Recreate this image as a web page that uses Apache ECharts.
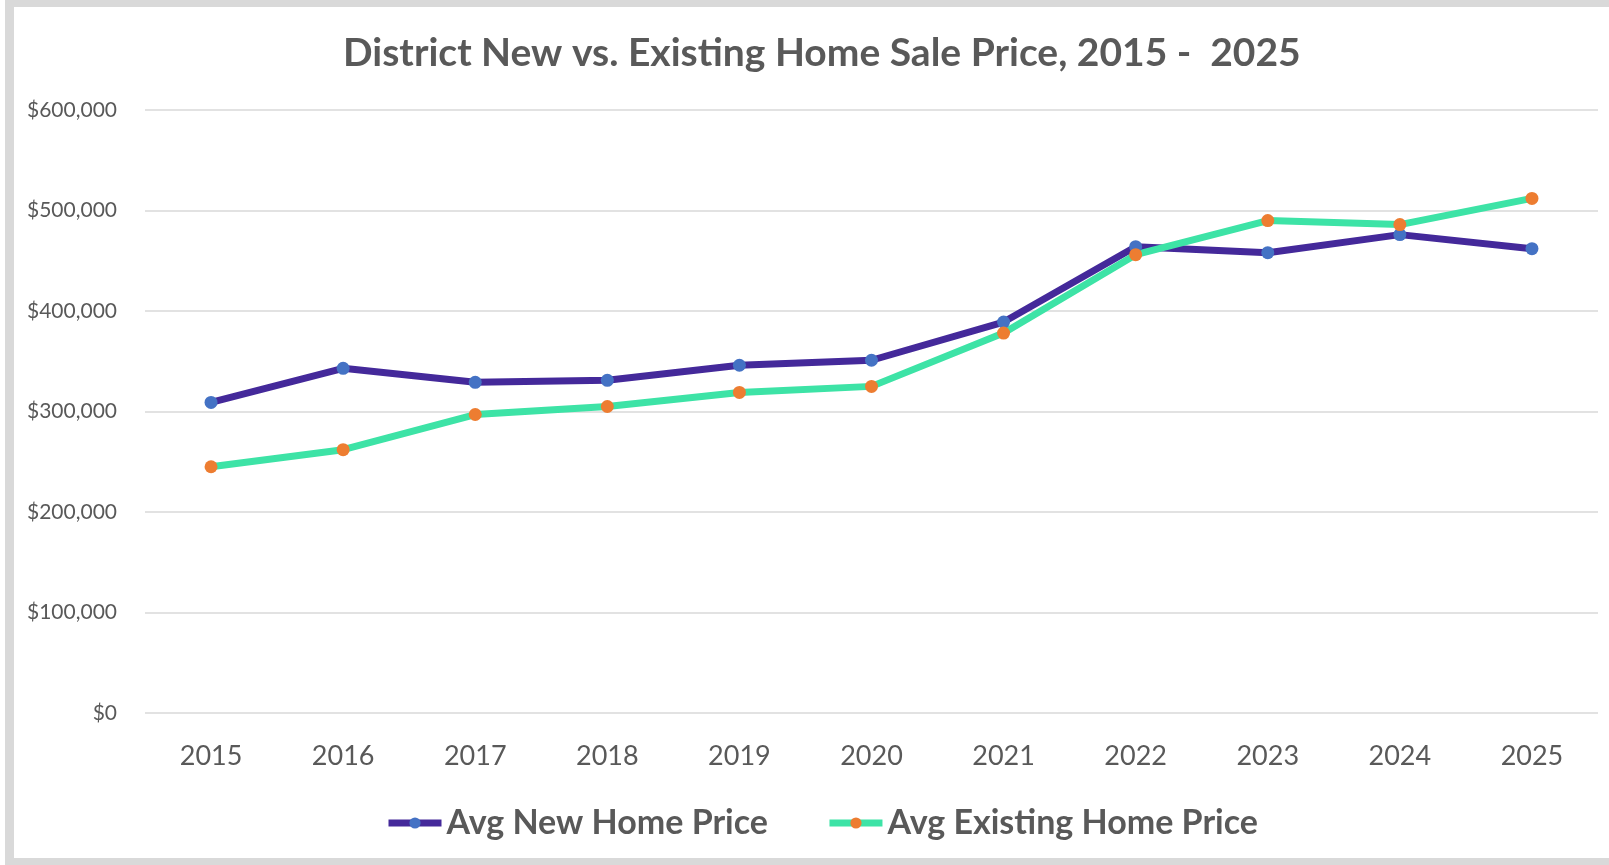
<!DOCTYPE html>
<html>
<head>
<meta charset="utf-8">
<title>District New vs. Existing Home Sale Price</title>
<script src="https://cdn.jsdelivr.net/npm/echarts@6/dist/echarts.min.js"></script>
<style>
  html, body { margin: 0; padding: 0; background: #fff; overflow: hidden; }
  #chart { position: absolute; left: 0; top: 0; width: 1609px; height: 865px; }
  /* the grey frame of the original chart box */
  #frame {
    position: absolute; left: 5px; top: 0; width: 1700px; height: 865px;
    box-sizing: border-box; pointer-events: none;
    border-left: 9px solid #d9d9d9; border-top: 7px solid #d9d9d9; border-bottom: 7px solid #d9d9d9;
  }
</style>
</head>
<body>
<div id="chart"></div>
<div id="frame"></div>
<script>
// years on the x axis
var years = ['2015', '2016', '2017', '2018', '2019', '2020', '2021', '2022', '2023', '2024', '2025'];
// average sale prices
var avgNewHome = [309000, 343000, 329000, 331000, 346000, 351000, 389000, 464000, 458000, 476000, 462000];
var avgExistingHome = [245000, 262000, 297000, 305000, 319000, 325000, 378000, 456000, 490000, 486000, 512000];
var seriesNames = ['Avg New Home Price', 'Avg Existing Home Price'];

var textColor = '#595959';
var fontName = 'Lato';

function money(v) {
  return '$' + String(v).replace(/\B(?=(\d{3})+(?!\d))/g, ',');
}

var chart = echarts.init(document.getElementById('chart'), null, { renderer: 'canvas' });

var option = {
  backgroundColor: '#fff',
  animation: false,
  title: {
    text: 'District New vs. Existing Home Sale Price, 2015 -  2025',
    left: 338,  // sits a little right of centre in the original
    top: 29,
    textStyle: { color: textColor, fontFamily: fontName, fontWeight: 'bold', fontSize: 39 }
  },
  legend: {
    left: 380,
    top: 801,
    itemWidth: 53,
    itemHeight: 14,
    itemGap: 58,
    lineStyle: { width: 7 },
    textStyle: { color: textColor, fontFamily: fontName, fontWeight: 'bold', fontSize: 34 },
    data: seriesNames
  },
  grid: { left: 145, right: 11, top: 110, bottom: 152, containLabel: false },
  xAxis: {
    type: 'category',
    boundaryGap: true,
    data: years,
    axisLine: { show: false },
    axisTick: { show: false },
    axisLabel: { color: textColor, fontFamily: fontName, fontSize: 27, margin: 30 }
  },
  yAxis: {
    type: 'value',
    min: 0,
    max: 600000,
    interval: 100000,
    axisLine: { show: false },
    axisTick: { show: false },
    splitLine: { lineStyle: { color: '#d9d9d9', width: 1.5 } },
    axisLabel: { color: textColor, fontFamily: fontName, fontSize: 21, margin: 28, formatter: money }
  },
  series: [
    {
      name: seriesNames[0],
      type: 'line',
      data: avgNewHome,
      symbol: 'circle',
      symbolSize: 13,
      itemStyle: { color: '#4472c4' },
      lineStyle: { color: '#44299a', width: 7 }
    },
    {
      name: seriesNames[1],
      type: 'line',
      data: avgExistingHome,
      symbol: 'circle',
      symbolSize: 13,
      itemStyle: { color: '#ed7d31' },
      lineStyle: { color: '#3de3a6', width: 7 }
    }
  ]
};

chart.setOption(option);
</script>
</body>
</html>
